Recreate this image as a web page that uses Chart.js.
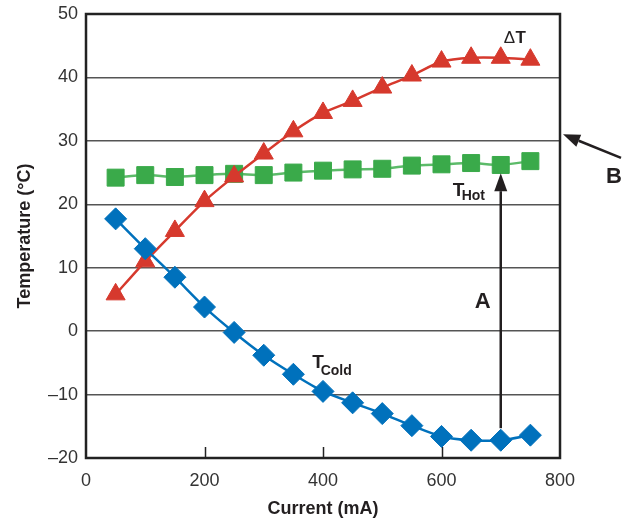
<!DOCTYPE html>
<html>
<head>
<meta charset="utf-8">
<script src="https://cdn.jsdelivr.net/npm/chart.js@4/dist/chart.umd.min.js"></script>
<style>
html, body { margin: 0; padding: 0; background: #fff; }
</style>
</head>
<body>
<canvas id="chart" width="633" height="523"></canvas>
<script>
// values
var currents = [50, 100, 150, 200, 250, 300, 350, 400, 450, 500, 550, 600, 650, 700, 750];
var tCold = [17.7, 13.0, 8.5, 3.8, -0.2, -3.8, -6.8, -9.5, -11.3, -13.0, -14.9, -16.6, -17.2, -17.2, -16.4];
var deltaT = [5.8, 11.0, 15.8, 20.5, 24.4, 28.0, 31.5, 34.4, 36.3, 38.4, 40.3, 42.5, 43.1, 43.1, 42.8];
var tHot = [24.2, 24.6, 24.3, 24.6, 24.8, 24.6, 25.0, 25.3, 25.5, 25.6, 26.1, 26.3, 26.5, 26.2, 26.8];
var xTicks = [0, 200, 400, 600, 800];
var yMin = -20, yMax = 50, yStep = 10;

var FONT = '"Liberation Sans", Arial, sans-serif';

function pts(vals) {
	return currents.map(function (c, i) { return { x: c, y: vals[i] }; });
}

function arrow(ctx, x1, y1, x2, y2, len, w) {
	var a = Math.atan2(y2 - y1, x2 - x1);
	var bx = x2 - Math.cos(a) * len, by = y2 - Math.sin(a) * len;
	ctx.beginPath();
	ctx.moveTo(x1, y1);
	ctx.lineTo(bx, by);
	ctx.stroke();
	ctx.beginPath();
	ctx.moveTo(x2, y2);
	ctx.lineTo(bx + Math.sin(a) * w / 2, by - Math.cos(a) * w / 2);
	ctx.lineTo(bx - Math.sin(a) * w / 2, by + Math.cos(a) * w / 2);
	ctx.closePath();
	ctx.fill();
}

var notes = {
	id: "notes",
	beforeDatasetsDraw: function (chart) {
		var ctx = chart.ctx, a = chart.chartArea, xs = chart.scales.x;
		ctx.save();
		ctx.strokeStyle = "#222";
		ctx.lineWidth = 1.5;
		// small inner ticks on the bottom axis
		xTicks.slice(1, -1).forEach(function (v) {
			var px = Math.round(xs.getPixelForValue(v)) + 0.5;
			ctx.beginPath();
			ctx.moveTo(px, a.bottom);
			ctx.lineTo(px, a.bottom - 11);
			ctx.stroke();
		});
		ctx.lineWidth = 2.5;
		ctx.strokeRect(a.left, a.top, a.right - a.left, a.bottom - a.top);
		ctx.restore();
	},
	afterDatasetsDraw: function (chart) {
		var ctx = chart.ctx, a = chart.chartArea, xs = chart.scales.x, ys = chart.scales.y;
		ctx.save();
		ctx.fillStyle = "#231f20";
		ctx.strokeStyle = "#231f20";
		ctx.textBaseline = "alphabetic";
		ctx.textAlign = "left";

		// delta T label
		ctx.font = "17px " + FONT;
		ctx.fillText("\u0394", xs.getPixelForValue(705), ys.getPixelForValue(45.4));
		ctx.font = "bold 17px " + FONT;
		ctx.fillText("T", xs.getPixelForValue(725), ys.getPixelForValue(45.4));

		// T Hot
		ctx.font = "bold 19px " + FONT;
		ctx.fillText("T", xs.getPixelForValue(619), ys.getPixelForValue(21.3));
		ctx.font = "bold 14px " + FONT;
		ctx.fillText("Hot", xs.getPixelForValue(634), ys.getPixelForValue(20.6));

		// T Cold
		ctx.font = "bold 19px " + FONT;
		ctx.fillText("T", xs.getPixelForValue(382), ys.getPixelForValue(-5.8));
		ctx.font = "bold 14px " + FONT;
		ctx.fillText("Cold", xs.getPixelForValue(396), ys.getPixelForValue(-6.9));

		// A and B
		ctx.font = "bold 22px " + FONT;
		ctx.fillText("A", xs.getPixelForValue(656), ys.getPixelForValue(3.6));
		ctx.fillText("B", a.right + 46, ys.getPixelForValue(23.4));

		// arrows
		ctx.lineWidth = 2.5;
		var ax = xs.getPixelForValue(700);
		arrow(ctx, ax, ys.getPixelForValue(-15.3), ax, ys.getPixelForValue(24.9), 18, 13);
		var by = ys.getPixelForValue(30);
		arrow(ctx, a.right + 61, by + 17, a.right + 3, by - 6.5, 17, 13);
		ctx.restore();
	}
};

new Chart(document.getElementById("chart").getContext("2d"), {
	type: "line",
	data: {
		datasets: [
			{
				label: "TCold",
				data: pts(tCold),
				borderColor: "#0071bc",
				backgroundColor: "#0071bc",
				borderWidth: 2.5,
				pointStyle: "rectRot",
				pointRadius: 11,
				pointBorderWidth: 1,
				tension: 0.25,
			},
			{
				label: "Delta T",
				data: pts(deltaT),
				borderColor: "#d6392d",
				backgroundColor: "#d6392d",
				borderWidth: 2.5,
				pointStyle: "triangle",
				pointRadius: 11,
				pointBorderWidth: 1,
				tension: 0.25,
			},
			{
				label: "THot",
				data: pts(tHot),
				borderColor: "#5cbb69",
				backgroundColor: "#3aaa4a",
				pointBorderColor: "#3aaa4a",
				borderWidth: 2.5,
				pointStyle: "rect",
				pointRadius: 12,
				pointBorderWidth: 1,
				tension: 0.25,
			},
		],
	},
	options: {
		responsive: false,
		animation: false,
		layout: { padding: { top: 14, right: 73, left: 0, bottom: 0 } },
		plugins: {
			legend: { display: false },
			tooltip: { enabled: false },
		},
		scales: {
			x: {
				type: "linear",
				min: xTicks[0],
				max: xTicks[xTicks.length - 1],
				afterFit: function (s) { s.height = 65; s.paddingLeft = 0; s.paddingRight = 0; },
				afterBuildTicks: function (s) { s.ticks = xTicks.map(function (v) { return { value: v }; }); },
				grid: { display: false, drawTicks: false },
				border: { display: false },
				ticks: {
					padding: 12,
					color: "#333",
					font: { family: FONT, size: 18 },
					maxRotation: 0,
				},
				title: {
					display: true,
					text: "Current (mA)",
					color: "#231f20",
					font: { family: FONT, size: 18, weight: "bold" },
					padding: { top: 0, bottom: 3 },
				},
			},
			y: {
				min: yMin,
				max: yMax,
				afterFit: function (s) { s.width = 86; s.paddingTop = 0; s.paddingBottom = 0; },
				grid: { color: "#555", lineWidth: 1.5, drawTicks: false },
				border: { display: false },
				ticks: {
					stepSize: yStep,
					padding: 8,
					color: "#333",
					font: { family: FONT, size: 18 },
					callback: function (v) { return String(v).replace("-", "\u2013"); },
				},
				title: {
					display: true,
					text: "Temperature (\u00b0C)",
					color: "#231f20",
					font: { family: FONT, size: 18, weight: "bold" },
					padding: { top: 14, bottom: 0 },
				},
			},
		},
	},
	plugins: [notes],
});
</script>
</body>
</html>
